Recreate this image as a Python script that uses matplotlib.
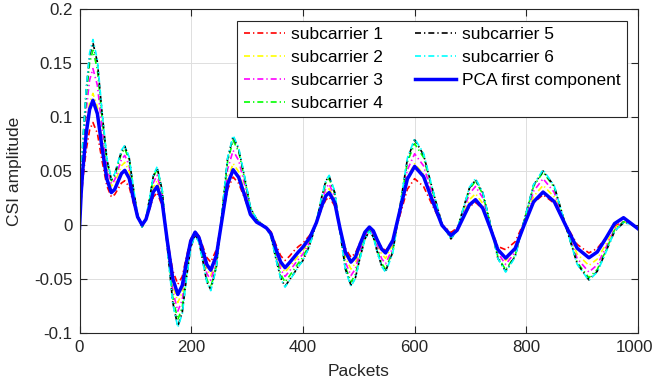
import matplotlib
matplotlib.use("Agg")
import matplotlib.pyplot as plt
from matplotlib.ticker import FuncFormatter
from matplotlib.transforms import ScaledTranslation

plt.rcParams['font.family'] = ['Liberation Sans', 'DejaVu Sans']
plt.rcParams['axes.unicode_minus'] = False

# ---- data ----
packets = [0, 3, 6, 12, 18, 24,
           32, 40, 49, 57,
           63, 69, 75, 81,
           89, 96, 104, 112,
           119, 126, 132, 139,
           148, 157, 167, 176,
           184, 191, 199, 207,
           214, 221, 228, 235,
           245, 255, 265, 275,
           285, 296, 306, 317,
           326, 335,
           343, 351, 360, 368,
           376, 384, 392, 400,
           412, 424, 434, 441, 447,
           457, 466, 476, 486,
           494, 502, 511, 519,
           526, 533, 541, 548,
           561, 574, 587, 600,
           616, 632, 649, 665,
           676, 687, 698, 709,
           722, 736, 749, 763,
           780, 796, 813, 830,
           850, 870, 891, 912,
           927, 943, 958, 974,
           987, 1000]

pca = [-0.003, 0.030, 0.052, 0.085, 0.107, 0.1156,
       0.1031, 0.0728, 0.0425, 0.030,
       0.033, 0.0403, 0.0476, 0.0506,
       0.0432, 0.0253, 0.0074, 0.000,
       0.0052, 0.0179, 0.0305, 0.0357,
       0.021, -0.0144, -0.0499, -0.0645,
       -0.0561, -0.0356, -0.0151, -0.0067,
       -0.0119, -0.0244, -0.0368, -0.042,
       -0.0284, 0.0046, 0.0376, 0.0512,
       0.0441, 0.0269, 0.0097, 0.0026,
       0.000, -0.003,
       -0.0084, -0.0214, -0.0343, -0.0397,
       -0.035, -0.030, -0.025, -0.0206,
       -0.012, 0.002, 0.018, 0.027, 0.030,
       0.0206, -0.0023, -0.0251, -0.0345,
       -0.0298, -0.0183, -0.0067, -0.002,
       -0.0055, -0.014, -0.0225, -0.026,
       -0.0143, 0.0142, 0.0426, 0.0543,
       0.0449, 0.0223, -0.0004, -0.0098,
       -0.0050, 0.0068, 0.0186, 0.0234,
       0.0155, -0.0037, -0.0229, -0.0308,
       -0.0218, -0.0002, 0.0215, 0.0305,
       0.0216, 0.000, -0.0216, -0.0305,
       -0.0251, -0.0119, 0.0013, 0.0067,
       0.0016, -0.0036]

sub1 = [-0.003, 0.0242, 0.0425, 0.0697, 0.0879, 0.095,
        0.0849, 0.0605, 0.0361, 0.026,
        0.0282, 0.0335, 0.0388, 0.041,
        0.0352, 0.021, 0.0068, 0.001,
        0.0052, 0.0155, 0.0258, 0.030,
        0.0176, -0.0125, -0.0426, -0.055,
        -0.0478, -0.0305, -0.0132, -0.006,
        -0.0102, -0.0203, -0.0303, -0.0345,
        -0.023, 0.005, 0.0329, 0.0444,
        0.0385, 0.0242, 0.0099, 0.004,
        0.0005, -0.002,
        -0.0065, -0.0175, -0.0285, -0.033,
        -0.029, -0.024, -0.020, -0.017,
        -0.0097, 0.0021, 0.0157, 0.0233, 0.0258,
        0.0177, -0.0021, -0.0219, -0.030,
        -0.0261, -0.0165, -0.0069, -0.003,
        -0.0061, -0.0135, -0.0209, -0.024,
        -0.0142, 0.0095, 0.0331, 0.0429,
        0.0356, 0.018, 0.0003, -0.007,
        -0.0029, 0.007, 0.0169, 0.021,
        0.0146, -0.003, -0.020, -0.023,
        -0.0156, 0.0025, 0.0206, 0.028,
        0.0201, 0.001, -0.0181, -0.026,
        -0.0218, -0.0115, -0.0012, 0.003,
        0.001, -0.003]

sub2 = [-0.003, 0.0318, 0.055, 0.0898, 0.113, 0.122,
        0.1094, 0.079, 0.0486, 0.036,
        0.0392, 0.047, 0.0548, 0.058,
        0.0495, 0.029, 0.0085, 0.000,
        0.006, 0.0205, 0.035, 0.041,
        0.0245, -0.0155, -0.0555, -0.072,
        -0.0625, -0.0395, -0.0165, -0.007,
        -0.0128, -0.027, -0.0412, -0.047,
        -0.0318, 0.005, 0.0418, 0.057,
        0.0493, 0.0305, 0.0117, 0.004,
        0.0005, -0.003,
        -0.009, -0.0234, -0.0378, -0.0438,
        -0.0389, -0.0337, -0.0286, -0.024,
        -0.0142, 0.0017, 0.0199, 0.0302, 0.0336,
        0.0227, -0.0037, -0.0301, -0.041,
        -0.0356, -0.0225, -0.0094, -0.004,
        -0.0079, -0.0175, -0.0271, -0.031,
        -0.0182, 0.0129, 0.0440, 0.0568,
        0.047, 0.0234, -0.0002, -0.010,
        -0.0043, 0.0095, 0.0233, 0.029,
        0.0199, -0.002, -0.024, -0.033,
        -0.0228, 0.0019, 0.0265, 0.0367,
        0.0259, -0.0005, -0.027, -0.0376,
        -0.0317, -0.0173, -0.0028, 0.003,
        0.001, -0.003]

sub3 = [-0.003, 0.0381, 0.0657, 0.1068, 0.1343, 0.145,
        0.1294, 0.0915, 0.0536, 0.038,
        0.0419, 0.0513, 0.0606, 0.0645,
        0.0549, 0.0318, 0.0085, -0.001,
        0.0059, 0.0225, 0.0391, 0.046,
        0.0276, -0.017, -0.0616, -0.080,
        -0.0695, -0.044, -0.0185, -0.008,
        -0.0144, -0.0298, -0.0451, -0.0515,
        -0.0339, 0.0088, 0.0514, 0.069,
        0.0597, 0.037, 0.0143, 0.005,
        0.001, -0.003,
        -0.0095, -0.0254, -0.0413, -0.0478,
        -0.0427, -0.0372, -0.0318, -0.027,
        -0.016, 0.002, 0.0226, 0.0342, 0.038,
        0.0256, -0.0045, -0.0346, -0.047,
        -0.0407, -0.0255, -0.0103, -0.004,
        -0.0087, -0.020, -0.0313, -0.036,
        -0.0211, 0.015, 0.0511, 0.066,
        0.0548, 0.0275, 0.0002, -0.011,
        -0.0042, 0.0124, 0.0289, 0.0357,
        0.0251, -0.0005, -0.026, -0.0367,
        -0.0251, 0.0031, 0.0313, 0.0429,
        0.0302, -0.0005, -0.0311, -0.0438,
        -0.037, -0.0204, -0.0038, 0.003,
        0.001, -0.003]

sub4 = [-0.003, 0.0429, 0.0736, 0.1194, 0.1501, 0.162,
        0.1443, 0.1015, 0.0587, 0.041,
        0.0453, 0.0559, 0.0664, 0.0707,
        0.0601, 0.0344, 0.0086, -0.002,
        0.0059, 0.025, 0.0441, 0.052,
        0.0316, -0.018, -0.0676, -0.088,
        -0.0763, -0.048, -0.0197, -0.008,
        -0.0153, -0.033, -0.0507, -0.058,
        -0.0381, 0.0103, 0.0586, 0.0785,
        0.0678, 0.0418, 0.0157, 0.005,
        0.001, -0.003,
        -0.0103, -0.028, -0.0457, -0.053,
        -0.0473, -0.0413, -0.0353, -0.030,
        -0.0176, 0.0026, 0.0257, 0.0387, 0.043,
        0.029, -0.005, -0.039, -0.053,
        -0.046, -0.029, -0.012, -0.005,
        -0.0103, -0.023, -0.0357, -0.041,
        -0.024, 0.0172, 0.0584, 0.0754,
        0.0626, 0.0317, 0.0004, -0.012,
        -0.0043, 0.0144, 0.0330, 0.0407,
        0.0287, -0.0005, -0.0296, -0.0416,
        -0.0284, 0.0037, 0.0358, 0.049,
        0.0347, 0.000, -0.0347, -0.049,
        -0.0414, -0.023, -0.0046, 0.003,
        0.001, -0.003]

sub5 = [-0.003, 0.045, 0.077, 0.125, 0.157, 0.169,
        0.151, 0.106, 0.061, 0.042,
        0.047, 0.058, 0.068, 0.073,
        0.062, 0.035, 0.009, -0.002,
        0.006, 0.026, 0.045, 0.053,
        0.032, -0.020, -0.072, -0.094,
        -0.081, -0.051, -0.021, -0.009,
        -0.016, -0.034, -0.053, -0.060,
        -0.039, 0.011, 0.061, 0.082,
        0.070, 0.043, 0.016, 0.005,
        0.001, -0.003,
        -0.011, -0.030, -0.049, -0.057,
        -0.051, -0.045, -0.038, -0.033,
        -0.019, 0.002, 0.027, 0.041, 0.045,
        0.030, -0.005, -0.041, -0.056,
        -0.049, -0.031, -0.013, -0.006,
        -0.011, -0.025, -0.038, -0.043,
        -0.025, 0.018, 0.061, 0.079,
        0.065, 0.033, 0.001, -0.013,
        -0.005, 0.015, 0.034, 0.042,
        0.030, 0.000, -0.031, -0.043,
        -0.029, 0.004, 0.037, 0.050,
        0.036, 0.000, -0.036, -0.051,
        -0.043, -0.024, -0.006, 0.002,
        0.001, -0.004]

sub6 = [-0.003, 0.0457, 0.0782, 0.1269, 0.1594, 0.172,
        0.1532, 0.1075, 0.0618, 0.043,
        0.0475, 0.0584, 0.0693, 0.0738,
        0.0627, 0.0359, 0.0091, -0.002,
        0.0062, 0.026, 0.0458, 0.054,
        0.0322, -0.0205, -0.0732, -0.095,
        -0.0824, -0.052, -0.0216, -0.009,
        -0.0166, -0.035, -0.0534, -0.061,
        -0.040, 0.011, 0.062, 0.083,
        0.0716, 0.044, 0.0164, 0.005,
        0.001, -0.003,
        -0.011, -0.0304, -0.0497, -0.0577,
        -0.0516, -0.0452, -0.0387, -0.033,
        -0.0196, 0.0023, 0.0273, 0.0413, 0.046,
        0.031, -0.0055, -0.042, -0.057,
        -0.0496, -0.0315, -0.0134, -0.006,
        -0.0115, -0.025, -0.0385, -0.044,
        -0.0259, 0.018, 0.0619, 0.080,
        0.0664, 0.0335, 0.0006, -0.013,
        -0.0048, 0.015, 0.0348, 0.043,
        0.0303, -0.0004, -0.0311, -0.0438,
        -0.0299, 0.0037, 0.0373, 0.0512,
        0.0362, -0.0002, -0.0365, -0.0515,
        -0.0437, -0.0248, -0.0058, 0.002,
        0.001, -0.004]

labels = ['subcarrier 1', 'subcarrier 2', 'subcarrier 3', 'subcarrier 4',
          'subcarrier 5', 'subcarrier 6', 'PCA first component']
x_ticks = [0, 200, 400, 600, 800, 1000]
y_ticks = [-0.1, -0.05, 0, 0.05, 0.1, 0.15, 0.2]

# ---- figure ----
fig = plt.figure(figsize=(6.54, 3.85), dpi=100)
ax = fig.add_axes([0.1216, 0.1358, 0.8540, 0.8400])

axcol = '#262626'
dd = (0, (3.6, 1.8, 0.8, 1.8))
series = [sub1, sub2, sub3, sub4, sub5, sub6]
colors = ['#ff0000', '#ffff00', '#ff00ff', '#00ff00', '#000000', '#00ffff']
handles = []
for ys, c, lab in zip(series, colors, labels[:6]):
    h, = ax.plot(packets, ys, color=c, lw=1.2, linestyle=dd, label=lab)
    handles.append(h)
h, = ax.plot(packets, pca, color='#0000ff', lw=2.5, label=labels[6])
handles.append(h)

ax.set_xlim(0, 1000)
ax.set_ylim(-0.1, 0.2)
ax.set_xticks(x_ticks)
ax.set_yticks(y_ticks)

def fmt(v, pos):
    s = ('%.2f' % v).rstrip('0').rstrip('.')
    if s in ('-0', ''):
        s = '0'
    return s

ax.yaxis.set_major_formatter(FuncFormatter(fmt))
ax.xaxis.set_major_formatter(FuncFormatter(lambda v, p: '%d' % v))

ax.grid(True, color='#dedede', lw=0.7)
ax.set_axisbelow(True)
for sp in ax.spines.values():
    sp.set_color(axcol)
    sp.set_linewidth(0.8)
ax.tick_params(direction='in', top=True, right=True, length=5, width=0.8,
               color=axcol, labelcolor=axcol, labelsize=12.2, pad=5)

# keep the last x tick label inside the figure, as in the reference
last_lab = ax.xaxis.get_major_ticks()[-1].label1
last_lab.set_transform(last_lab.get_transform() +
                       ScaledTranslation(-4 / 100, 0, fig.dpi_scale_trans))

ax.set_xlabel('Packets', fontsize=12.5, color=axcol, labelpad=7)
ax.set_ylabel('CSI amplitude', fontsize=12.5, color=axcol, labelpad=8.5)

leg = ax.legend(handles=handles, ncol=2, loc='upper right',
                bbox_to_anchor=(0.98, 0.965), borderaxespad=0,
                fontsize=12.5, frameon=True, fancybox=False,
                edgecolor=axcol, framealpha=1, handlelength=2.35,
                handletextpad=0.35, columnspacing=1.85, labelspacing=0.44,
                borderpad=0.38)
leg.get_frame().set_linewidth(0.8)
for t in leg.get_texts():
    t.set_color('#000000')

fig.savefig('out.png', dpi=100)
